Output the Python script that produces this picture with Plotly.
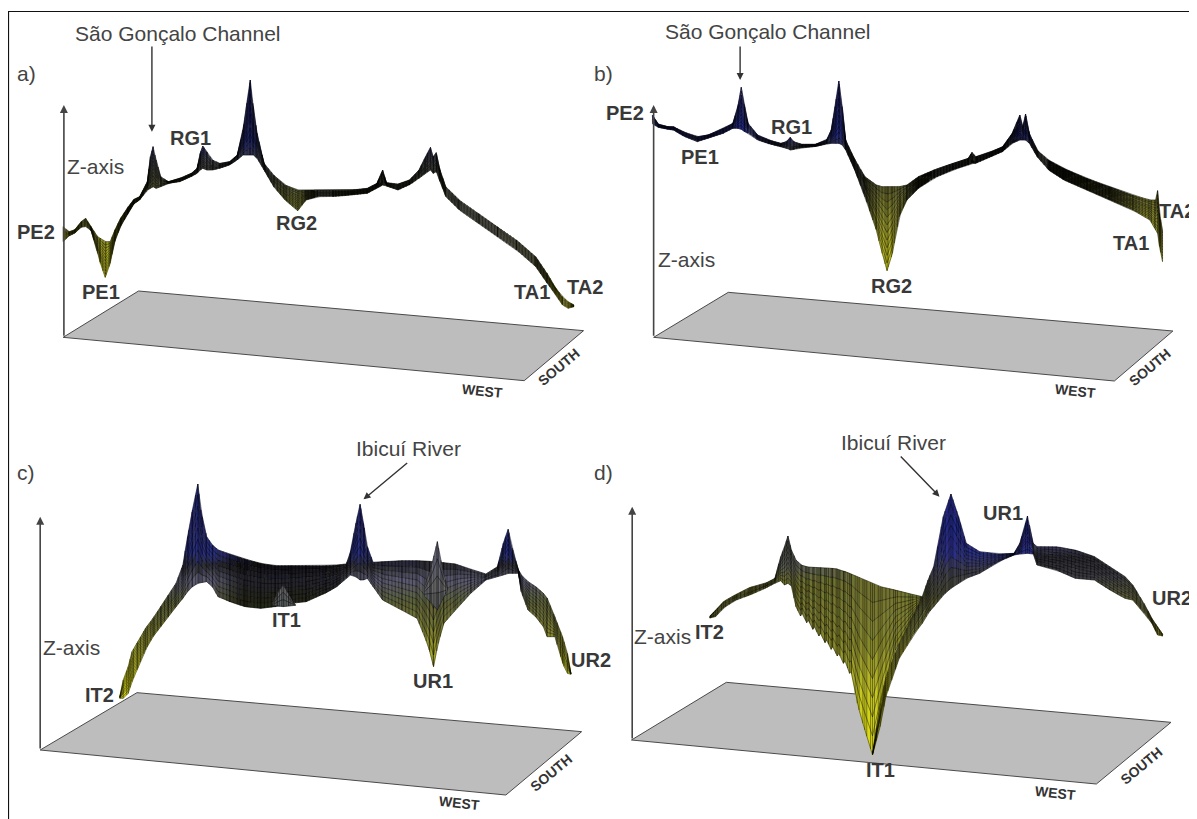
import numpy as np
import plotly.graph_objects as go

SX, SY = 600 / 1568, 1 / 3
ORIGIN = {"a": (0, 0), "b": (597, 0), "c": (0, 410), "d": (597, 410)}

# ---- ridge readings, crop units: along, upper edge, lower edge
a_x = [165,180,195,212,224,238,255,262,275,288,300,315,335,350,365,385,393,400,408,420,440,470,500,515,523,530,540,555,575,600,620,635,645,654,662,672,690,715,745,778,800,830,870,920,960,985,1000,1010,1040,1070,1095,1112,1125,1132,1140,1150,1165,1200,1250,1300,1350,1400,1430,1450,1470,1485,1500]
a_top = [680,695,690,665,655,680,710,715,725,725,690,655,620,598,590,545,470,440,480,530,545,535,520,505,460,438,455,480,490,485,465,390,310,240,320,400,490,525,555,570,570,570,570,570,565,550,510,548,552,540,510,470,442,470,458,510,560,600,640,680,720,770,820,860,890,905,915]
a_bot = [725,708,700,682,680,692,760,790,832,790,725,680,640,612,600,570,565,560,565,560,550,545,530,520,510,505,510,510,505,495,480,465,465,465,465,475,510,560,600,632,600,590,590,585,580,565,555,558,570,555,535,520,510,520,515,545,590,630,670,710,750,800,850,880,915,925,920]

b_x = [145,160,185,200,225,262,290,330,355,368,377,386,395,420,450,480,495,505,515,535,570,600,612,622,632,641,650,670,700,730,745,758,772,790,810,840,880,930,970,980,990,1030,1060,1085,1105,1113,1120,1130,1150,1180,1220,1280,1340,1400,1445,1460,1465,1470,1478]
b_top = [345,372,380,380,395,410,405,385,370,320,262,320,370,405,420,430,425,412,425,433,433,420,390,320,243,320,420,470,530,555,560,560,560,560,555,530,510,490,475,457,470,455,440,400,345,380,342,400,450,480,505,535,560,585,600,600,572,640,690]
b_bot = [372,382,388,390,408,425,415,400,385,385,388,395,400,420,432,440,445,450,448,443,440,432,430,430,430,435,450,500,590,690,760,812,760,650,600,565,535,510,495,490,490,470,455,430,420,420,420,430,470,510,540,570,600,630,660,690,700,740,785]

c_x = [313,322,335,345,360,380,400,420,440,460,478,490,503,517,525,540,555,570,600,640,680,720,760,800,850,880,905,915,930,941,950,960,975,1000,1050,1090,1110,1122,1133,1145,1160,1190,1230,1270,1300,1315,1328,1340,1355,1362,1380,1400,1420,1430,1450,1470,1483,1492]
c_top = [860,810,770,725,695,655,625,590,555,520,465,380,300,222,300,380,405,420,432,447,460,467,467,467,467,465,462,430,340,283,340,410,457,455,452,452,453,454,455,456,458,462,478,492,470,400,358,420,480,495,515,530,550,565,620,680,730,790]
c_bot = [865,865,850,815,775,720,680,650,620,590,565,545,530,520,518,515,530,560,575,590,595,590,580,575,550,530,505,495,500,510,510,505,530,570,600,625,680,720,770,700,640,600,550,510,500,495,490,490,490,545,600,620,650,680,680,760,790,793]

d1_x = [295,310,330,360,400,440,465,480,490,499,508,520,532,536,548,552,564,568,580,584,596,600,612,616,628,632,644,648,660,664,680,700,720,740,780,820,850]
d1_top = [618,600,575,555,532,520,505,440,410,378,420,450,463,466,470,471,472,472,473,473,474,474,475,475,477,479,483,484,490,492,500,510,520,530,540,552,560]
d1_bot = [624,620,595,572,555,535,520,512,525,520,528,590,618,610,638,630,658,650,678,670,698,690,718,710,738,730,760,752,790,785,880,960,1035,915,720,640,575]

d2_x = [720,740,755,790,830,850,865,880,905,925,945,965,1000,1050,1090,1105,1125,1140]
d2_top = [1030,880,800,700,610,560,510,470,320,252,320,400,425,432,430,400,318,400]
d2_bot = [1035,950,860,745,670,640,610,590,555,535,520,505,490,455,435,432,430,432]

d3_x = [1140,1150,1200,1250,1300,1340,1380,1400,1430,1450,1465,1478]
d3_top = [400,410,410,420,440,470,500,525,580,625,650,672]
d3_bot = [432,465,480,505,510,540,565,570,610,640,675,678]

spike_ci_x = [712,725,740,755,772]
spike_ci_top = [582,550,525,555,585]
spike_ci_bot = [586,588,590,588,586]
spike_cu_x = [1110,1125,1143,1155,1170]
spike_cu_top = [530,480,395,470,535]
spike_cu_bot = [560,575,600,570,540]

floor_a = [(165,1012),(362,873),(1525,992),(1370,1142)]
floor_b = [(148,1012),(343,877),(1505,993),(1352,1143)]
floor_c = [(105,1020),(358,848),(1520,965),(1322,1155)]
floor_d = [(90,990),(338,817),(1500,937),(1305,1122)]

zaxis_x = {"a": 167, "b": 148, "c": 105, "d": 92}
zaxis_y0 = {"a": 1012, "b": 1012, "c": 1020, "d": 990}
zaxis_y1 = {"a": 315, "b": 315, "c": 320, "d": 290}

callouts = [("a",397,135,397,395),("b",374,135,374,240),("c",1068,155,950,268),("d",790,135,895,260)]

plain_labels = [
 ("a","São Gonçalo Channel",465,100),("a","a)",68,220),("a","Z-axis",250,500),
 ("b","São Gonçalo Channel",445,95),("b","b)",18,220),("b","Z-axis",233,778),
 ("c","Ibicuí River",1068,115),("c","c)",68,188),("c","Z-axis",187,712),
 ("d","Ibicuí River",775,98),("d","d)",18,188),("d","Z-axis",172,680),
]
bold_labels = [
 ("a","RG1",497,415),("a","PE2",95,695),("a","PE1",265,875),("a","RG2",775,668),("a","TA1",1390,875),("a","TA2",1530,862),
 ("b","RG1",507,380),("b","PE1",270,470),("b","PE2",72,340),("b","RG2",770,857),("b","TA2",1515,632),("b","TA1",1395,728),
 ("c","IT1",748,630),("c","IT2",260,855),("c","UR1",1132,812),("c","UR2",1545,750),
 ("d","IT1",740,1080),("d","IT2",293,665),("d","UR1",1062,308),("d","UR2",1503,565),
]
west_labels = [("a",1262,1172),("b",1250,1172),("c",1200,1180),("d",1198,1150)]
south_labels = [("a",1460,1100),("b",1445,1100),("c",1440,1090),("d",1422,1068)]

# ---- colour ramps by height (crop y -> colour)
ramp_a = [(230,"#1f2470"),(430,"#262a78"),(480,"#4a4d58"),(540,"#4f5238"),(600,"#66692c"),(700,"#8c8c24"),(830,"#d0d020")]
ramp_b = [(240,"#1f2478"),(410,"#262a80"),(450,"#30322e"),(520,"#3f4028"),(600,"#6a6b2c"),(700,"#a3a328"),(810,"#d8d818")]
ramp_c = [(220,"#23286f"),(440,"#2c3080"),(465,"#2a2a30"),(510,"#5c5c72"),(575,"#5c5e38"),(650,"#7a7c32"),(800,"#d2d21e")]
ramp_d1 = [(378,"#3c3f3c"),(470,"#5c5e56"),(510,"#6e7032"),(700,"#85862c"),(860,"#c8c820"),(1035,"#e0e010")]
ramp_d2 = [(250,"#1f2480"),(430,"#2a2e86"),(480,"#3d3d4c"),(560,"#45452c"),(650,"#6a6c30"),(800,"#b0b028"),(1035,"#e4e410")]
ramp_d3 = [(405,"#3a3c60"),(440,"#26262c"),(500,"#3a3a40"),(550,"#55553a"),(620,"#7a7a30"),(680,"#b0b020")]
ramp_gray = [(390,"#6a6a86"),(525,"#6c6c70"),(600,"#555a58")]

shade_a = ([300,330,400,690,740,778,815,990,1150,1180,1420,1470],[1.0,0.45,0.9,0.8,0.9,1.0,0.3,0.3,0.8,0.25,0.3,1.0])
shade_b = ([640,680,735,790,830,1080,1140,1180,1340,1420],[1.0,0.3,1.0,1.0,0.3,0.3,1.0,0.25,0.4,1.0])
shade_c = ([560,620,880,915],[1.0,0.4,0.4,1.0])

ribbons = [
 ("a",a_x,a_top,a_bot,ramp_a,11,8,shade_a),
 ("b",b_x,b_top,b_bot,ramp_b,11,8,shade_b),
 ("c",c_x,c_top,c_bot,ramp_c,9,9,shade_c),
 ("c",spike_ci_x,spike_ci_top,spike_ci_bot,ramp_gray,3,6,None),
 ("c",spike_cu_x,spike_cu_top,spike_cu_bot,ramp_gray,4,6,None),
 ("d",d1_x,d1_top,d1_bot,ramp_d1,9,10,None),
 ("d",d2_x,d2_top,d2_bot,ramp_d2,9,10,None),
 ("d",d3_x,d3_top,d3_bot,ramp_d3,9,10,None),
]

def to_px(p, x, y):
    ox, oy = ORIGIN[p]
    return ox + np.asarray(x, float) * SX, oy + np.asarray(y, float) * SY

def colour_at(ramp, y, scale=1.0):
    ys = [r[0] for r in ramp]
    rgb = np.array([[int(r[1][i:i+2], 16) for i in (1,3,5)] for r in ramp], float)
    out = [np.interp(y, ys, rgb[:,k]) * scale for k in range(3)]
    out = [int(round(v / 6) * 6) for v in out]
    return f"rgb({min(out[0],255)},{min(out[1],255)},{min(out[2],255)})"

fig = go.Figure()

for key, fl in [("a",floor_a),("b",floor_b),("c",floor_c),("d",floor_d)]:
    xs, ys = to_px(key, [q[0] for q in fl]+[fl[0][0]], [q[1] for q in fl]+[fl[0][1]])
    fig.add_trace(go.Scatter(x=xs, y=ys, mode="lines", fill="toself", fillcolor="#bdbdbd",
                             line=dict(color="#4a4a4a", width=1), hoverinfo="skip"))

for key, xk, tk, bk, ramp, rows, step, shade in ribbons:
    xk, tk, bk = np.array(xk, float), np.array(tk, float), np.array(bk, float)
    grid = np.unique(np.concatenate([xk, np.arange(xk[0], xk[-1], step)]))
    top = np.interp(grid, xk, tk); bot = np.interp(grid, xk, bk)
    cells = {}
    mx, my = [], []
    ts = np.linspace(0, 1, rows + 1)
    for i in range(len(grid) - 1):
        for r in range(rows):
            t0, t1 = ts[r], ts[r+1]
            yy = [top[i]+(bot[i]-top[i])*t0, top[i+1]+(bot[i+1]-top[i+1])*t0,
                  top[i+1]+(bot[i+1]-top[i+1])*t1, top[i]+(bot[i]-top[i])*t1]
            s = float(np.interp(grid[i], shade[0], shade[1])) if shade else 1.0
            c = colour_at(ramp, float(np.mean(yy)), s)
            px, py = to_px(key, [grid[i],grid[i+1],grid[i+1],grid[i],grid[i]], yy+[yy[0]])
            d = cells.setdefault(c, ([], []))
            d[0].extend(list(px)+[None]); d[1].extend(list(py)+[None])
    for c, (px, py) in cells.items():
        fig.add_trace(go.Scatter(x=px, y=py, mode="lines", fill="toself", fillcolor=c,
                                 line=dict(color=c, width=0.4), hoverinfo="skip"))
    for t in ts:
        px, py = to_px(key, grid, top+(bot-top)*t)
        mx.extend(list(px)+[None]); my.extend(list(py)+[None])
    for i in range(len(grid)):
        px, py = to_px(key, [grid[i],grid[i]], [top[i],bot[i]])
        mx.extend(list(px)+[None]); my.extend(list(py)+[None])
    fig.add_trace(go.Scatter(x=mx, y=my, mode="lines", line=dict(color="rgba(0,0,0,0.7)", width=0.6),
                             hoverinfo="skip"))

ann = []
def arrow(p, x0, y0, x1, y1, col, w):
    ax, ay = to_px(p, x0, y0); hx, hy = to_px(p, x1, y1)
    ann.append(dict(x=float(hx), y=float(hy), ax=float(ax), ay=float(ay), xref="x", yref="y", axref="x", ayref="y",
                    showarrow=True, arrowhead=2, arrowsize=1, arrowwidth=w, arrowcolor=col, text=""))
for p in "abcd":
    arrow(p, zaxis_x[p], zaxis_y0[p], zaxis_x[p], zaxis_y1[p], "#444444", 1.6)
for p, x0, y0, x1, y1 in callouts:
    arrow(p, x0, y0, x1, y1, "#333333", 1.4)

def label(p, t, x, y, size, col, bold=False, angle=0):
    px, py = to_px(p, x, y)
    ann.append(dict(x=float(px), y=float(py), xref="x", yref="y", showarrow=False, textangle=angle,
                    text=f"<b>{t}</b>" if bold else t,
                    font=dict(family="Liberation Sans", size=size, color=col)))
for p, t, x, y in plain_labels:
    label(p, t, x, y, 21, "#444444")
for p, t, x, y in bold_labels:
    label(p, t, x, y, 20, "#383838", bold=True)
for p, x, y in west_labels:
    label(p, "WEST", x, y, 14, "#333333", bold=True, angle=6)
for p, x, y in south_labels:
    label(p, "SOUTH", x, y, 14, "#333333", bold=True, angle=-40)

fig.add_shape(type="line", x0=8.5, x1=8.5, y0=819, y1=11.5, xref="x", yref="y", line=dict(color="#111111", width=1.2))
fig.add_shape(type="line", x0=8, x1=1197, y0=11.5, y1=11.5, xref="x", yref="y", line=dict(color="#111111", width=1.2))

# the page keeps an 8px body margin, so the canvas covers picture pixels 8..1197 and 8..819
fig.update_layout(width=1189, height=811, margin=dict(l=0,r=0,t=0,b=0), showlegend=False,
                  paper_bgcolor="white", plot_bgcolor="white", annotations=ann,
                  xaxis=dict(range=[8,1197], visible=False, fixedrange=True),
                  yaxis=dict(range=[819,8], visible=False, fixedrange=True))
fig.write_html("out.html", config=dict(displayModeBar=False))
